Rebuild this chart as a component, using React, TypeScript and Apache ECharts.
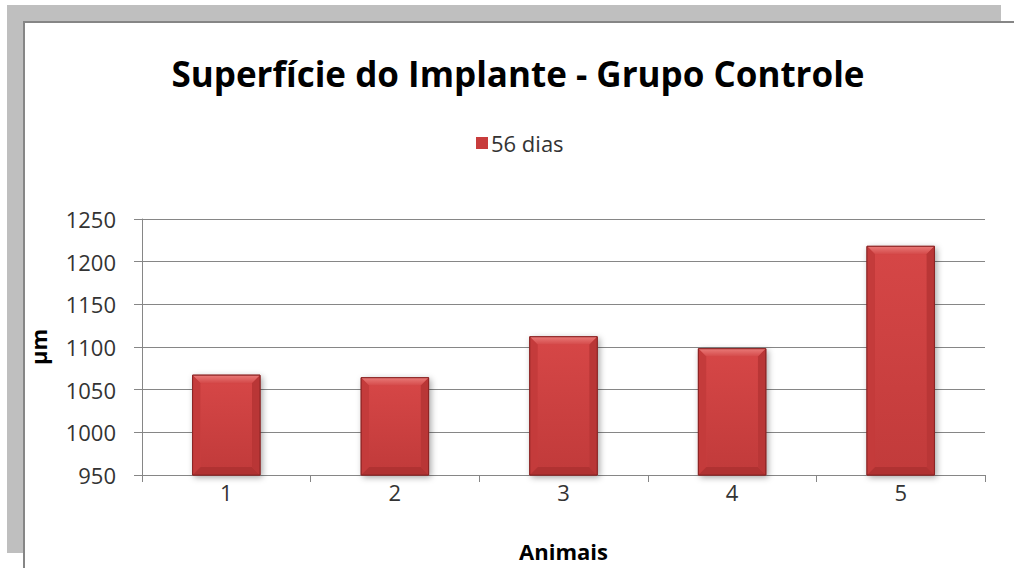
import React, { useEffect, useRef } from "react";
import * as echarts from "echarts";

const categories = ["1", "2", "3", "4", "5"];
const values = [1067, 1064, 1112, 1098, 1218];
const seriesName = "56 dias";
const titleText = "Superfície do Implante - Grupo Controle";
const yAxisName = "µm";
const xAxisName = "Animais";

export default function App() {
  const ref = useRef<HTMLDivElement>(null);
  useEffect(() => {
    document.body.style.margin = "0";
    const chart = echarts.init(ref.current!, null, { renderer: "svg" });
    const font = "'Open Sans', 'Noto Sans', sans-serif";
    const renderItem = (params: any, api: any) => {
      const idx = api.value(0);
      const val = api.value(1);
      const top = api.coord([idx, val]);
      const base = api.coord([idx, 950]);
      const size = api.size([1, 0]);
      const w = size[0] * 0.4;
      const x0 = top[0] - w / 2;
      const x1 = top[0] + w / 2;
      const y0 = top[1];
      const y1 = base[1];
      const b = 8;
      return {
        type: "group",
        children: [
          {
            type: "rect",
            shape: { x: x0, y: y0, width: w, height: y1 - y0 },
            style: {
              fill: "#cc4040",
              stroke: "#8a2424",
              lineWidth: 1,
              shadowBlur: 6,
              shadowOffsetX: 2,
              shadowOffsetY: 2,
              shadowColor: "rgba(0,0,0,0.35)",
            },
          },
          {
            type: "polygon",
            shape: { points: [[x0, y0], [x1, y0], [x1 - b, y0 + b], [x0 + b, y0 + b]] },
            style: {
              fill: new echarts.graphic.LinearGradient(0, 0, 0, 1, [
                { offset: 0, color: "#e97a78" },
                { offset: 1, color: "#d44848" },
              ]),
            },
          },
          {
            type: "polygon",
            shape: { points: [[x0, y0], [x0 + b, y0 + b], [x0 + b, y1 - b], [x0, y1]] },
            style: { fill: "#c43b3b" },
          },
          {
            type: "polygon",
            shape: { points: [[x1, y0], [x1 - b, y0 + b], [x1 - b, y1 - b], [x1, y1]] },
            style: { fill: "#b93636" },
          },
          {
            type: "polygon",
            shape: { points: [[x0, y1], [x0 + b, y1 - b], [x1 - b, y1 - b], [x1, y1]] },
            style: { fill: "#b03232" },
          },
          {
            type: "rect",
            shape: { x: x0 + b, y: y0 + b, width: w - 2 * b, height: Math.max(0, y1 - y0 - 2 * b) },
            style: {
              fill: new echarts.graphic.LinearGradient(0, 0, 0, 1, [
                { offset: 0, color: "#d54646" },
                { offset: 1, color: "#c23b3b" },
              ]),
            },
          },
          {
            type: "rect",
            shape: { x: x0, y: y0, width: w, height: y1 - y0 },
            style: { fill: "none", stroke: "#8a2424", lineWidth: 1 },
          },
        ],
      };
    };
    chart.setOption({
      animation: false,
      backgroundColor: "#ffffff",
      graphic: [
        { type: "rect", shape: { x: 7, y: 5, width: 994, height: 16 }, style: { fill: "#bfbfbf" }, z: 0 },
        { type: "rect", shape: { x: 7, y: 5, width: 16, height: 548 }, style: { fill: "#bfbfbf" }, z: 0 },
        { type: "rect", shape: { x: 23, y: 21, width: 991, height: 2 }, style: { fill: "#868686" }, z: 1 },
        { type: "rect", shape: { x: 23, y: 21, width: 2, height: 547 }, style: { fill: "#868686" }, z: 1 },
      ],
      title: {
        text: titleText,
        left: 513,
        textAlign: "center",
        top: 51,
        textStyle: { fontFamily: font, fontWeight: "bold", fontSize: 35, color: "#000" },
      },
      legend: {
        data: [{ name: seriesName, icon: "rect", itemStyle: { color: "#c83c3c" } }],
        left: 471,
        top: 127,
        itemWidth: 12,
        itemHeight: 12,
        itemGap: 4,
        textStyle: { fontFamily: font, fontSize: 22, color: "#333", padding: [0, 0, 0, -2] },
      },
      grid: { left: 142, right: 29, top: 219, bottom: 93 },
      xAxis: {
        type: "category",
        data: categories,
        name: xAxisName,
        nameLocation: "middle",
        nameGap: 65,
        nameTextStyle: { fontFamily: font, fontWeight: "bold", fontSize: 22, color: "#000" },
        axisLine: { lineStyle: { color: "#868686" } },
        axisTick: { show: true, length: 7, lineStyle: { color: "#868686" } },
        axisLabel: { fontFamily: font, fontSize: 22, color: "#333", margin: 6 },
      },
      yAxis: {
        type: "value",
        min: 950,
        max: 1250,
        interval: 50,
        name: yAxisName,
        nameLocation: "middle",
        nameGap: 93,
        nameTextStyle: { fontFamily: font, fontWeight: "bold", fontSize: 22, color: "#000" },
        axisLine: { show: true, lineStyle: { color: "#868686" } },
        axisTick: { show: true, length: 8, lineStyle: { color: "#868686" } },
        splitLine: { lineStyle: { color: "#868686" } },
        axisLabel: { fontFamily: font, fontSize: 22, color: "#333", margin: 26, formatter: (v: number) => String(v) },
      },
      series: [
        {
          name: seriesName,
          type: "custom",
          renderItem,
          itemStyle: { color: "#c83c3c" },
          encode: { x: 0, y: 1 },
          data: values.map((v, i) => [i, v]),
          z: 5,
        },
      ],
    });
    return () => chart.dispose();
  }, []);
  return <div ref={ref} style={{ width: 1014, height: 568 }} />;
}
